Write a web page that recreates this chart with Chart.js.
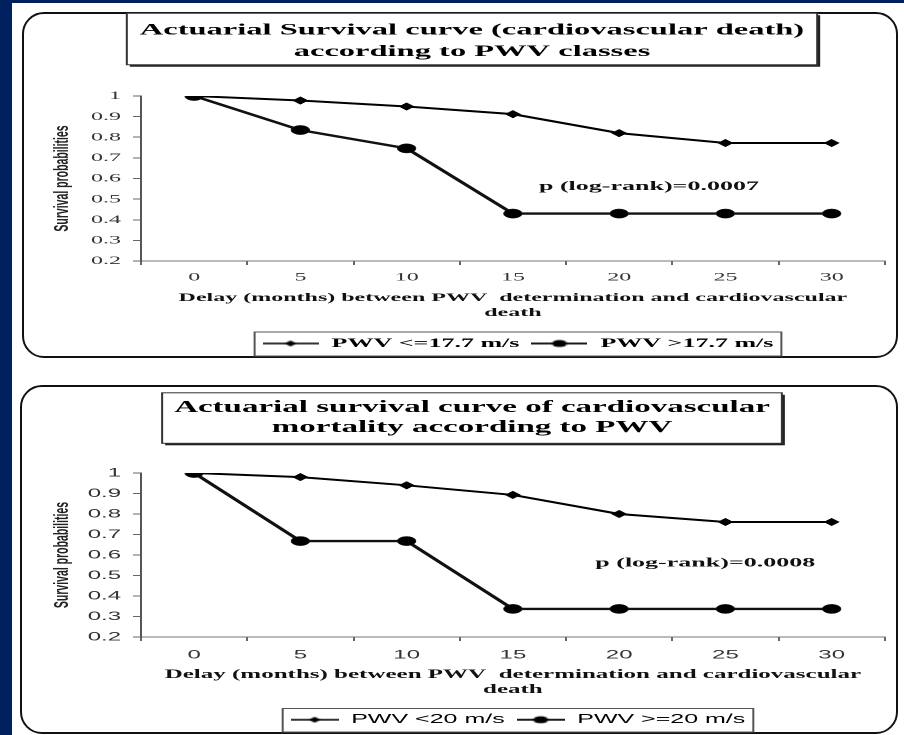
<!DOCTYPE html>
<html>
<head>
<meta charset="utf-8">
<title>Actuarial survival curves</title>
<script src="https://cdn.jsdelivr.net/npm/chart.js@4.4.1/dist/chart.umd.min.js"></script>
<style>
  html, body { margin: 0; padding: 0; }
  body { width: 904px; height: 735px; background: #002060; position: relative; overflow: hidden; }
  #sheet { position: absolute; left: 12px; top: 3px; right: 0; bottom: 0; background: #fff; }
  .panel { position: absolute; box-sizing: border-box; border: 2px solid #111; border-radius: 22px; }
  canvas { position: absolute; }
</style>
</head>
<body>
<div id="sheet"></div>
<div class="panel" style="left:22px; top:12px; width:876px; height:346px;"></div>
<div class="panel" style="left:20px; top:385px; width:878px; height:349px;"></div>
<!-- the original figure is an Excel chart stretched 2x horizontally, so the canvases are too -->
<canvas id="chart-classes" width="435" height="356" style="left:25px; top:4px; width:870px; height:356px;"></canvas>
<canvas id="chart-mortality" width="435" height="359" style="left:25px; top:377px; width:870px; height:359px;"></canvas>
<script>
const months = [`0`, `5`, `10`, `15`, `20`, `25`, `30`];

// panel 1: PWV classes around 17.7 m/s
const classesTitle = [`Actuarial Survival curve (cardiovascular death)`, `according to PWV classes`];
const classesLabels = [`PWV <=17.7 m/s`, `PWV >17.7 m/s`];
const classesLow = [1, 0.978, 0.949, 0.912, 0.82, 0.772, 0.772];
const classesHigh = [1, 0.835, 0.746, 0.43, 0.43, 0.43, 0.43];
const classesP = `p (log-rank)=0.0007`;

// panel 2: PWV around 20 m/s
const mortalityTitle = [`Actuarial survival curve of cardiovascular`, `mortality according to PWV`];
const mortalityLabels = [`PWV <20 m/s`, `PWV >=20 m/s`];
const mortalityLow = [1, 0.98, 0.94, 0.893, 0.80, 0.761, 0.761];
const mortalityHigh = [1, 0.668, 0.668, 0.337, 0.337, 0.337, 0.337];
const mortalityP = `p (log-rank)=0.0008`;

const xTitle = [`Delay (months) between PWV  determination and cardiovascular`, `death`];
const yTitle = `Survival probabilities`;

const SERIF = `'Liberation Serif', 'Times New Roman', serif`;
const SANS = `'Liberation Sans', Arial, sans-serif`;

// little "line with a marker" picture used as legend symbol
function legendIcon(width, shape, r, lineWidth) {
  const c = document.createElement(`canvas`);
  c.width = width;
  c.height = 12;
  const g = c.getContext(`2d`);
  g.strokeStyle = `#000`;
  g.lineWidth = lineWidth;
  g.beginPath();
  g.moveTo(0, 6);
  g.lineTo(width, 6);
  g.stroke();
  g.fillStyle = `#000`;
  g.beginPath();
  if (shape === `diamond`) {
    g.moveTo(width / 2 - r, 6);
    g.lineTo(width / 2, 6 - r);
    g.lineTo(width / 2 + r, 6);
    g.lineTo(width / 2, 6 + r);
    g.closePath();
  } else {
    g.arc(width / 2, 6, r, 0, Math.PI * 2);
  }
  g.fill();
  return c;
}

// boxes round title and legend, the p value text, and small horizontal shifts
const panelDecor = {
  id: `panelDecor`,
  afterLayout(chart, args, opts) {
    chart.titleBlock.left += opts.titleShift;
    chart.titleBlock.right += opts.titleShift;
    chart.legend.left += opts.legendShift;
    chart.legend.right += opts.legendShift;
  },
  beforeDraw(chart, args, opts) {
    const {ctx} = chart;
    const t = chart.titleBlock;
    const tf = t.options.font;
    const lh = parseFloat(tf.lineHeight);
    ctx.save();
    ctx.font = `bold ${tf.size}px ${tf.family}`;
    const w = Math.max(...t.options.text.map((s) => ctx.measureText(s).width));
    const cx = (t.left + t.right) / 2;
    const first = t.top + t.options.padding.top + lh / 2;
    const last = first + lh * (t.options.text.length - 1);
    const x0 = cx - w / 2 - opts.boxPad.side;
    const y0 = first - opts.boxPad.top;
    const bw = w + opts.boxPad.side * 2;
    const bh = last + opts.boxPad.bottom - y0;
    ctx.fillStyle = `#222`;
    ctx.fillRect(x0 + 1.5, y0 + 2, bw, bh);
    ctx.fillStyle = `#fff`;
    ctx.fillRect(x0, y0, bw, bh);
    ctx.strokeStyle = `#333`;
    ctx.lineWidth = 1;
    ctx.strokeRect(x0, y0, bw, bh);

    const boxes = chart.legend.legendHitBoxes;
    if (boxes && boxes.length) {
      const left = Math.min(...boxes.map((b) => b.left)) - 4;
      const right = Math.max(...boxes.map((b) => b.left + b.width)) + 4;
      const top = boxes[0].top - 5;
      const bottom = boxes[0].top + boxes[0].height + 6;
      ctx.strokeStyle = `#555`;
      ctx.strokeRect(left, top, right - left, bottom - top);
    }
    ctx.restore();
  },
  afterDatasetsDraw(chart, args, opts) {
    const {ctx, scales: {x, y}} = chart;
    ctx.save();
    ctx.font = `bold 13px ${SERIF}`;
    ctx.fillStyle = `#111`;
    ctx.textAlign = `center`;
    ctx.textBaseline = `middle`;
    ctx.fillText(opts.pText, x.getPixelForValue(opts.pAt[0]), y.getPixelForValue(opts.pAt[1]));
    ctx.restore();
  }
};

function buildConfig(p) {
  const icons = [legendIcon(p.iconWidth, `diamond`, 3, 1.6), legendIcon(p.iconWidth, `circle`, 3.6, 1.8)];
  return {
    type: `line`,
    data: {
      labels: months,
      datasets: [
        {
          label: p.labels[0],
          data: p.low,
          borderColor: `#000`,
          backgroundColor: `#000`,
          borderWidth: 2,
          pointStyle: `rectRot`,
          pointRadius: 3.8,
          pointBorderWidth: 0.5
        },
        {
          label: p.labels[1],
          data: p.high,
          borderColor: `#111`,
          backgroundColor: `#000`,
          borderWidth: 2.3,
          pointStyle: `circle`,
          pointRadius: 4.6,
          pointBorderWidth: 0.5
        }
      ]
    },
    options: {
      responsive: false,
      devicePixelRatio: 2,
      animation: false,
      events: [],
      layout: {padding: 0},
      scales: {
        x: {
          offset: true,
          grid: {offset: true, drawOnChartArea: false, tickLength: 4, color: `#666`},
          border: {color: `#777`, width: 1},
          ticks: {autoSkip: false, maxRotation: 0, padding: p.xTickPad, color: `#333`,
            font: {family: p.tickFont, size: 12}},
          title: {display: true, text: xTitle, color: `#111`,
            font: {family: SERIF, size: p.xTitleSize, weight: `bold`, lineHeight: `15px`},
            padding: {top: 0, bottom: p.xTitlePad}},
          afterFit: (scale) => {
            scale.height = p.xHeight;
          }
        },
        y: {
          min: 0.2,
          max: 1,
          grid: {drawOnChartArea: false, tickLength: 4, color: `#666`},
          border: {color: `#555`, width: 1},
          ticks: {stepSize: 0.1, padding: 6, color: `#333`, font: {family: p.tickFont, size: 12},
            callback: (val) => String(Number(val.toFixed(1)))},
          title: {display: true, text: yTitle, color: `#222`,
            font: {family: SANS, size: 10.5, weight: `bold`},
            padding: {top: 12.5, bottom: 0}},
          afterFit: (scale) => {
            scale.width = 58;
          }
        }
      },
      plugins: {
        title: {
          display: true,
          text: p.title,
          color: `#000`,
          font: {family: SERIF, size: p.titleSize, weight: `bold`, lineHeight: p.titleLine},
          padding: p.titlePad
        },
        legend: {
          position: `bottom`,
          labels: {
            usePointStyle: true,
            pointStyleWidth: p.iconWidth,
            padding: 6,
            color: `#000`,
            font: p.legendFont,
            generateLabels(chart) {
              const items = Chart.defaults.plugins.legend.labels.generateLabels(chart);
              items.forEach((item, i) => {
                item.pointStyle = icons[i];
              });
              return items;
            }
          }
        },
        tooltip: {enabled: false},
        panelDecor: {
          titleShift: 6,
          legendShift: 29,
          boxPad: p.boxPad,
          pText: p.pText,
          pAt: p.pAt
        }
      }
    },
    plugins: [panelDecor]
  };
}

new Chart(document.getElementById(`chart-classes`), buildConfig({
  title: classesTitle,
  titleSize: 16.25,
  titleLine: `21.5px`,
  titlePad: {top: 15.5, bottom: 33.5},
  boxPad: {side: 6.5, top: 17, bottom: 13},
  labels: classesLabels,
  low: classesLow,
  high: classesHigh,
  tickFont: SERIF,
  xTickPad: 5,
  xTitleSize: 12,
  xTitlePad: 10.5,
  xHeight: 70,
  iconWidth: 28,
  legendFont: {family: SERIF, size: 13, weight: `bold`},
  pText: classesP,
  pAt: [4.28, 0.56]
}));

new Chart(document.getElementById(`chart-mortality`), buildConfig({
  title: mortalityTitle,
  titleSize: 16.5,
  titleLine: `20px`,
  titlePad: {top: 20.8, bottom: 35.2},
  boxPad: {side: 6, top: 15, bottom: 15.5},
  labels: mortalityLabels,
  low: mortalityLow,
  high: mortalityHigh,
  tickFont: SANS,
  xTickPad: 6.8,
  xTitleSize: 12.5,
  xTitlePad: 10,
  xHeight: 70.5,
  iconWidth: 24,
  legendFont: {family: SANS, size: 12.5},
  pText: mortalityP,
  pAt: [4.81, 0.56]
}));
</script>
</body>
</html>
